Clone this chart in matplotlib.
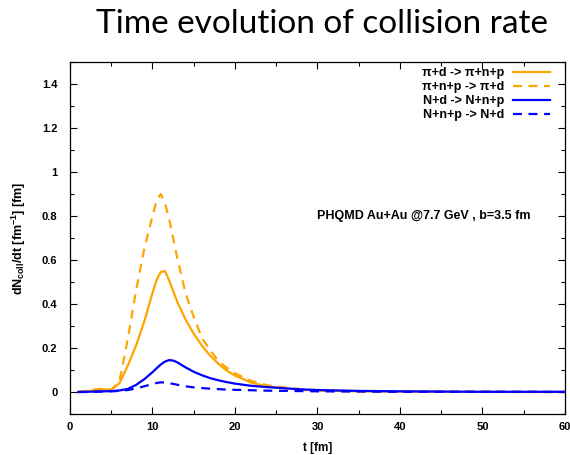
import matplotlib
matplotlib.use('Agg')
import matplotlib.pyplot as plt
from matplotlib.ticker import MultipleLocator

plt.rcParams['font.family'] = ['Liberation Sans', 'DejaVu Sans']
plt.rcParams['mathtext.fontset'] = 'custom'
plt.rcParams['mathtext.rm'] = 'Liberation Sans:bold'
plt.rcParams['mathtext.it'] = 'Liberation Sans:bold'
plt.rcParams['mathtext.bf'] = 'Liberation Sans:bold'

# time points [fm]
t = [1, 2, 3, 4, 5, 6, 7, 8, 9, 10, 10.5, 11, 11.5, 12, 12.5, 13, 14, 15, 16, 17,
     18, 19, 20, 22, 24, 26, 28, 30, 35, 40, 45, 50, 55, 60]

pid_break = [0.0, 0.003, 0.008, 0.012, 0.01, 0.04, 0.12, 0.21, 0.32, 0.45, 0.51, 0.545,
             0.55, 0.51, 0.46, 0.41, 0.33, 0.265, 0.21, 0.165, 0.128, 0.097, 0.075,
             0.042, 0.025, 0.017, 0.01, 0.006, 0.003, 0.002, 0.001, 0.001, 0.0, 0.0]
pid_form = [0.0, 0.005, 0.012, 0.015, 0.01, 0.05, 0.24, 0.46, 0.65, 0.80, 0.87, 0.90,
            0.86, 0.79, 0.70, 0.61, 0.45, 0.34, 0.245, 0.19, 0.14, 0.11, 0.085,
            0.05, 0.03, 0.021, 0.013, 0.008, 0.004, 0.002, 0.001, 0.001, 0.0, 0.0]
Nd_break = [0.0, 0.001, 0.002, 0.003, 0.004, 0.007, 0.014, 0.032, 0.058, 0.09, 0.108, 0.125,
            0.138, 0.145, 0.143, 0.135, 0.112, 0.092, 0.076, 0.063, 0.053, 0.045, 0.038,
            0.028, 0.022, 0.017, 0.012, 0.009, 0.005, 0.003, 0.002, 0.001, 0.001, 0.001]
Nd_form = [0.0, 0.0, 0.001, 0.002, 0.003, 0.005, 0.009, 0.016, 0.026, 0.036, 0.041, 0.044,
           0.043, 0.04, 0.037, 0.033, 0.026, 0.021, 0.018, 0.015, 0.013, 0.011, 0.01,
           0.008, 0.006, 0.005, 0.004, 0.003, 0.002, 0.001, 0.001, 0.001, 0.001, 0.0]

labels = ['π+d -> π+n+p', 'π+n+p -> π+d', 'N+d -> N+n+p', 'N+n+p -> N+d']

fig = plt.figure(figsize=(5.7, 4.55), dpi=100)
ax = fig.add_axes([0.1228, 0.0901, 0.8684, 0.7736])

orange = '#FFA500'
blue = '#0000FF'
ax.plot(t, pid_break, color=orange, lw=1.6, label=labels[0])
ax.plot(t, pid_form, color=orange, lw=1.6, dashes=(4, 3), label=labels[1])
ax.plot(t, Nd_break, color=blue, lw=1.6, label=labels[2])
ax.plot(t, Nd_form, color=blue, lw=1.6, dashes=(4, 3), label=labels[3])

ax.set_xlim(0, 60)
ax.set_ylim(-0.1, 1.5)
ax.xaxis.set_major_locator(MultipleLocator(10))
ax.xaxis.set_minor_locator(MultipleLocator(5))
ax.yaxis.set_minor_locator(MultipleLocator(0.1))
ax.set_yticks([0, 0.2, 0.4, 0.6, 0.8, 1, 1.2, 1.4])
ax.set_yticklabels(['0', '0.2', '0.4', '0.6', '0.8', '1', '1.2', '1.4'])
ax.tick_params(which='both', direction='in', top=True, right=True, width=0.8)
ax.tick_params(which='major', length=5, labelsize=8)
ax.tick_params(axis='x', which='major', pad=6)
ax.tick_params(axis='y', which='major', pad=9)
ax.tick_params(which='minor', length=3)
for lab in ax.get_xticklabels() + ax.get_yticklabels():
    lab.set_fontweight('bold')
for s in ax.spines.values():
    s.set_linewidth(0.9)

ax.set_xlabel('t [fm]', fontsize=8.5, fontweight='bold', labelpad=7)
ax.set_ylabel(r'dN$_{coll}$/dt [fm$^{-1}$] [fm]', fontsize=9, fontweight='bold', labelpad=10)

ax.text(30, 0.8, 'PHQMD Au+Au @7.7 GeV , b=3.5 fm', fontsize=9, fontweight='bold',
        ha='left', va='center')

leg = ax.legend(loc='upper right', bbox_to_anchor=(0.97, 0.985), frameon=False,
                markerfirst=False, fontsize=9, handlelength=3.0, labelspacing=0.15,
                borderaxespad=0, borderpad=0, handletextpad=0.65)
for txt in leg.get_texts():
    txt.set_fontweight('bold')

fig.text(0.565, 0.927, 'Time evolution of collision rate', fontsize=24, ha='center',
         va='baseline', family=['Lato', 'DejaVu Sans'])

fig.savefig('out.png', dpi=100)
